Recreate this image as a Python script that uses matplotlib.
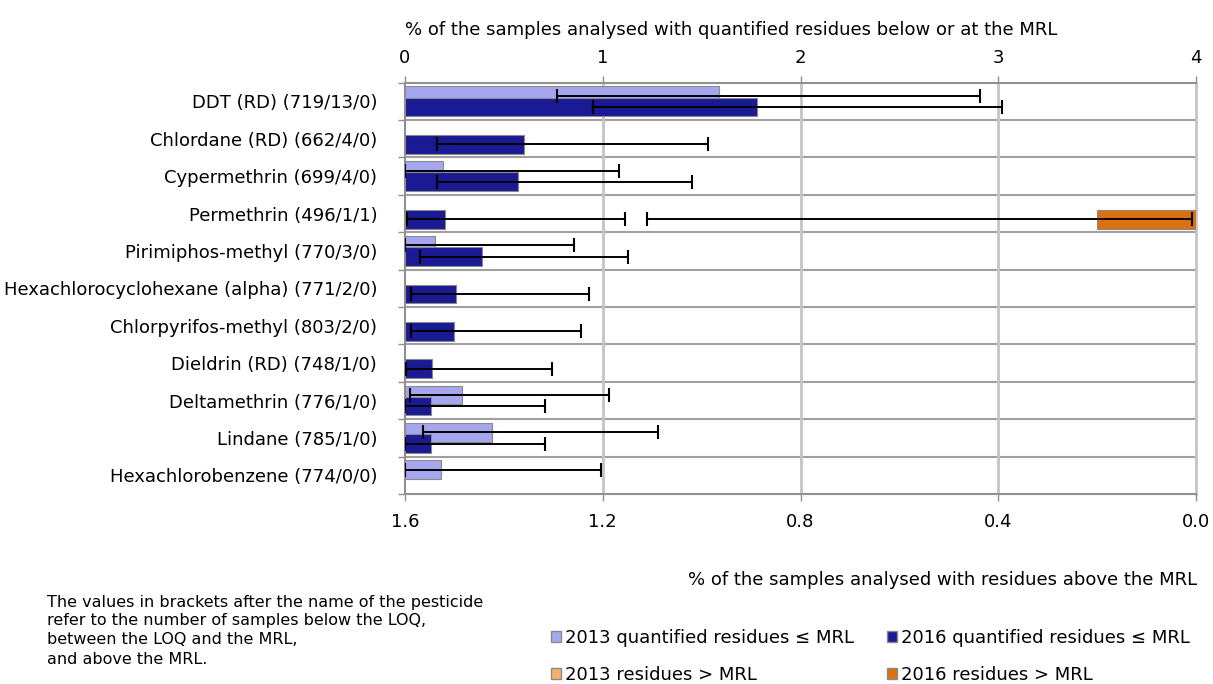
import numpy as np
import matplotlib
matplotlib.use("Agg")
import matplotlib.pyplot as plt
from matplotlib.patches import Patch

plt.rcParams['font.family'] = ['DejaVu Sans']

pesticides = ['DDT (RD) (719/13/0)', 'Chlordane (RD) (662/4/0)', 'Cypermethrin (699/4/0)',
              'Permethrin (496/1/1)', 'Pirimiphos-methyl (770/3/0)',
              'Hexachlorocyclohexane (alpha) (771/2/0)', 'Chlorpyrifos-methyl (803/2/0)',
              'Dieldrin (RD) (748/1/0)', 'Deltamethrin (776/1/0)', 'Lindane (785/1/0)',
              'Hexachlorobenzene (774/0/0)']

# % quantified residues <= MRL, with lower / upper confidence limits
q2013 = [1.59, 0.0, 0.19, 0.0, 0.15, 0.0, 0.0, 0.0, 0.29, 0.44, 0.18]
q2013_lo = [0.77, np.nan, 0.0, np.nan, 0.0, np.nan, np.nan, np.nan, 0.025, 0.09, 0.0]
q2013_hi = [2.91, np.nan, 1.08, np.nan, 0.855, np.nan, np.nan, np.nan, 1.03, 1.28, 0.99]

q2016 = [1.78, 0.60, 0.57, 0.20, 0.39, 0.26, 0.25, 0.135, 0.13, 0.13, 0.0]
q2016_lo = [0.95, 0.16, 0.16, 0.008, 0.077, 0.029, 0.029, 0.005, 0.0, 0.0, np.nan]
q2016_hi = [3.02, 1.53, 1.45, 1.11, 1.13, 0.93, 0.89, 0.745, 0.71, 0.71, np.nan]

# % residues > MRL
a2013 = [0.0] * 11
a2016 = [0.0, 0.0, 0.0, 0.20, 0.0, 0.0, 0.0, 0.0, 0.0, 0.0, 0.0]
a2016_lo = [np.nan, np.nan, np.nan, 0.008, np.nan, np.nan, np.nan, np.nan, np.nan, np.nan, np.nan]
a2016_hi = [np.nan, np.nan, np.nan, 1.11, np.nan, np.nan, np.nan, np.nan, np.nan, np.nan, np.nan]

c_l13 = '#a6a6ee'
c_d16 = '#1a1a94'
c_o13 = '#f5b06e'
c_o16 = '#dd700e'

n = len(pesticides)
y = np.arange(n)
y13 = y - 0.15
y16 = y + 0.15
h = 0.5

fig = plt.figure(figsize=(12.13, 6.84), dpi=100)
ax = fig.add_axes([405/1213, 1-494/684, 791/1213, (494-82.7)/684])

def draw(axis, yy, vals, lo, hi, color):
    vals = np.array(vals, float)
    lo = np.array(lo, float)
    hi = np.array(hi, float)
    m = vals > 0
    axis.barh(yy[m], vals[m], height=h, color=color, edgecolor='#8a8a8a', linewidth=0.8, zorder=3)
    e = ~np.isnan(lo)
    axis.errorbar(vals[e], yy[e], xerr=[vals[e]-lo[e], hi[e]-vals[e]], fmt='none',
                  ecolor='black', elinewidth=1.4, capsize=5, capthick=1.5, zorder=4)

draw(ax, y13, q2013, q2013_lo, q2013_hi, c_l13)
draw(ax, y16, q2016, q2016_lo, q2016_hi, c_d16)

ax.set_xlim(0, 4)
ax.set_ylim(n - 0.5, -0.5)
ax.set_yticks(y)
ax.set_yticklabels(pesticides, fontsize=13)
ax.set_yticks(np.arange(-0.5, n, 1), minor=True)
ax.tick_params(axis='y', which='major', length=0, pad=20)
ax.tick_params(axis='y', which='minor', length=5, width=1, color='#909090')
for b in np.arange(0.5, n - 0.5, 1):
    ax.axhline(b, color='#a0a0a0', lw=1.5, zorder=1)
for gx in [1, 2, 3]:
    ax.axvline(gx, color='#c4c4c4', lw=2, zorder=1)
for s in ['left', 'top', 'bottom']:
    ax.spines[s].set_color('#909090')
    ax.spines[s].set_linewidth(1.5)
ax.spines['right'].set_color('#c4c4c4')
ax.spines['right'].set_linewidth(2)

ax2 = ax.twiny()
draw(ax2, y13, a2013, [np.nan]*n, [np.nan]*n, c_o13)
draw(ax2, y16, a2016, a2016_lo, a2016_hi, c_o16)
ax2.set_xlim(1.6, 0.0)
ax2.xaxis.tick_bottom()
ax2.set_xticks([1.6, 1.2, 0.8, 0.4, 0.0])
ax2.set_xticklabels(['1.6', '1.2', '0.8', '0.4', '0.0'])
ax2.tick_params(axis='x', length=5, width=1, color='#909090', pad=9, labelsize=13)
for s in ax2.spines.values():
    s.set_visible(False)

# top axis for the quantified residues (after twiny, which moves it to the bottom)
ax.xaxis.tick_top()
ax.set_xticks([0, 1, 2, 3, 4])
ax.tick_params(axis='x', length=5, width=1, color='#909090', pad=6, labelsize=13)

fig.text(405/1213, 1-30/684, '% of the samples analysed with quantified residues below or at the MRL',
         fontsize=13, ha='left', va='center')
fig.text(1197/1213, 1-580/684, '% of the samples analysed with residues above the MRL',
         fontsize=13, ha='right', va='center')

note = ['The values in brackets after the name of the pesticide',
        'refer to the number of samples below the LOQ,',
        'between the LOQ and the MRL,',
        'and above the MRL.']
for i, line in enumerate(note):
    fig.text(47/1213, 1-(602+19*i)/684, line, fontsize=11.5, ha='left', va='center')

handles = [Patch(facecolor=c_l13, edgecolor='#8a8a8a'), Patch(facecolor=c_o13, edgecolor='#8a8a8a'),
           Patch(facecolor=c_d16, edgecolor='#8a8a8a'), Patch(facecolor=c_o16, edgecolor='#8a8a8a')]
labels = ['2013 quantified residues \u2264 MRL', '2013 residues > MRL',
          '2016 quantified residues \u2264 MRL', '2016 residues > MRL']
fig.legend(handles, labels, ncol=2, loc='upper left', bbox_to_anchor=(551/1213, 1-629/684),
           frameon=False, fontsize=13, handlelength=0.55, handleheight=0.55, handletextpad=0.25,
           columnspacing=1.8, labelspacing=1.05, borderaxespad=0, borderpad=0)

fig.savefig('out.png', dpi=100)
